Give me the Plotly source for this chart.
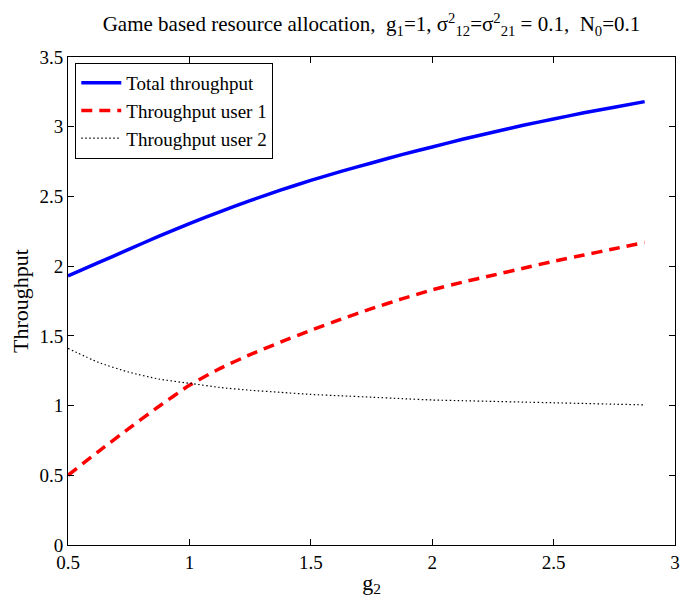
import plotly.graph_objects as go

g2 = [0.5, 0.625, 0.75, 0.875, 1.0, 1.125, 1.25, 1.375, 1.5, 1.625,
      1.75, 1.875, 2.0, 2.125, 2.25, 2.375, 2.5, 2.625, 2.75, 2.875]
total = [1.93, 2.025, 2.12, 2.215, 2.305, 2.39, 2.47, 2.545, 2.615, 2.68,
         2.74, 2.80, 2.855, 2.91, 2.96, 3.01, 3.055, 3.10, 3.14, 3.18]
user1 = [0.50, 0.67, 0.835, 0.995, 1.145, 1.265, 1.365, 1.455, 1.54, 1.62,
         1.695, 1.765, 1.83, 1.885, 1.935, 1.985, 2.035, 2.08, 2.125, 2.17]
user2 = [1.41, 1.31, 1.24, 1.19, 1.16, 1.13, 1.11, 1.095, 1.08, 1.07,
         1.06, 1.05, 1.04, 1.035, 1.03, 1.025, 1.02, 1.015, 1.01, 1.005]
names = ["Total throughput", "Throughput user 1", "Throughput user 2"]
x_ticks = [0.5, 1, 1.5, 2, 2.5, 3]
y_ticks = [0, 0.5, 1, 1.5, 2, 2.5, 3, 3.5]

FONT = "Liberation Serif"
SP = "\u00a0"

fig = go.Figure()
fig.add_trace(go.Scatter(x=g2, y=total, mode="lines", name=names[0],
                         line=dict(color="#0000ff", width=3.5, shape="spline", smoothing=0.6)))
fig.add_trace(go.Scatter(x=g2, y=user1, mode="lines", name=names[1],
                         line=dict(color="#ff0000", width=3.5, dash="11px,7px",
                                   shape="spline", smoothing=0.6)))
fig.add_trace(go.Scatter(x=g2, y=user2, mode="lines", name=names[2],
                         line=dict(color="#000000", width=1.2, dash="1.5px,2.5px",
                                   shape="spline", smoothing=0.6)))

axis_common = dict(
    showline=True, linecolor="black", linewidth=1, mirror="ticks",
    ticks="inside", ticklen=6, tickcolor="black", tickwidth=1,
    showgrid=False, zeroline=False, ticklabeloverflow="allow",
    tickfont=dict(family=FONT, size=19, color="black"),
)

title_text = ("Game based resource allocation," + SP + SP + "g<sub>1</sub>=1, "
              "σ<sup>2</sup><sub>12</sub>=σ<sup>2</sup><sub>21</sub> = 0.1," + SP + SP +
              "N<sub>0</sub>=0.1")

fig.update_layout(
    width=683, height=603,
    margin=dict(l=68, r=3, t=57, b=58),
    paper_bgcolor="white", plot_bgcolor="white",
    font=dict(family=FONT, size=19, color="black"),
    title=dict(
        text=title_text,
        x=0.5, xref="paper", xanchor="center", y=0.96, yanchor="middle",
        font=dict(family=FONT, size=21, color="black"),
    ),
    xaxis=dict(range=[0.5, 3], tickvals=x_ticks, ticktext=[str(v) for v in x_ticks],
               title=dict(text="g<sub>2</sub>", standoff=2,
                          font=dict(family=FONT, size=22)),
               **axis_common),
    yaxis=dict(range=[0, 3.5], tickvals=y_ticks, ticktext=[("%g" % v) for v in y_ticks],
               title=dict(text="Throughput", standoff=4,
                          font=dict(family=FONT, size=22)),
               **axis_common),
    legend=dict(x=0.012, y=0.988, xanchor="left", yanchor="top",
                bgcolor="white", bordercolor="black", borderwidth=1,
                font=dict(family=FONT, size=19, color="black"),
                itemwidth=40, tracegroupgap=0),
    showlegend=True,
)

fig.write_html("out.html")
